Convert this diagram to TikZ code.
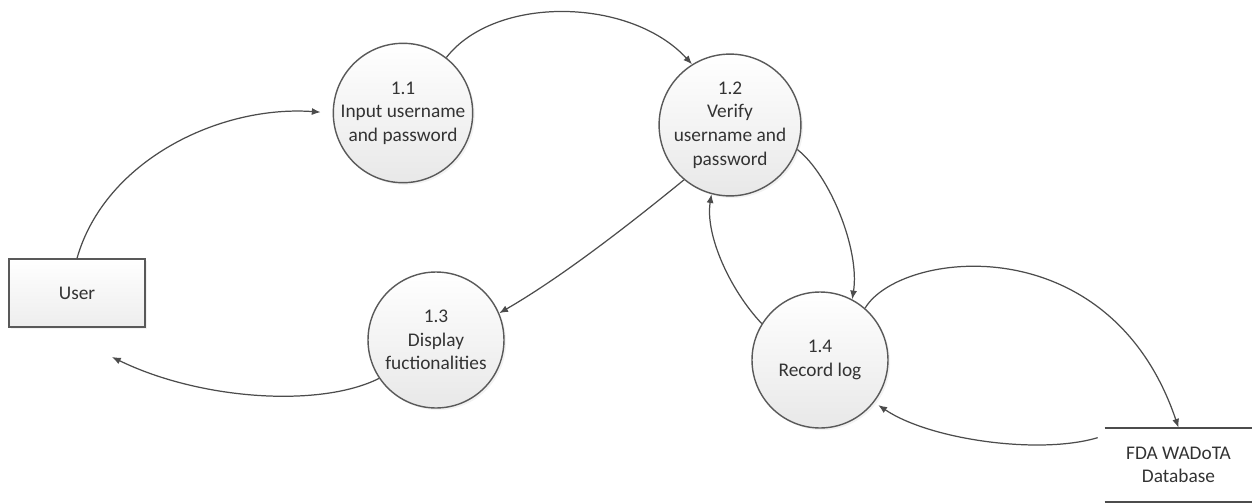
\documentclass[tikz,border=0pt]{standalone}
\usepackage{fontspec}
\setmainfont{Carlito}
\usetikzlibrary{arrows.meta,shadows,calc}
\begin{document}
\begin{tikzpicture}[x=0.02cm,y=-0.02cm,
  every node/.style={font=\fontsize{11}{13.4}\selectfont, text=black!80},
  proc/.style={circle, draw=black!65, line width=0.8pt, minimum size=2.72cm, inner sep=0pt, align=center,
    top color=white, bottom color=black!9, drop shadow={shadow xshift=1.2pt, shadow yshift=-1.2pt, opacity=0.1}},
  ent/.style={rectangle, draw=black!65, line width=0.8pt, minimum width=2.72cm, minimum height=1.36cm, align=center,
    top color=white, bottom color=black!7, drop shadow={shadow xshift=1.2pt, shadow yshift=-1.2pt, opacity=0.1}},
  store/.style={rectangle, minimum width=2.94cm, minimum height=1.48cm, align=center, inner sep=0pt},
  flow/.style={draw=black!70, line width=0.7pt, -{Latex[length=5pt,width=4pt]}}
]
\useasboundingbox (0,0) rectangle (1252,504);
\node[ent] (u) at (77,293) {User};
\node[proc] (c11) at (403,113) {1.1\\Input username\\and password};
\node[proc] (c12) at (730,125) {1.2\\Verify\\username and\\password};
\node[proc] (c13) at (436,340) {1.3\\Display\\fuctionalities};
\node[proc] (c14) at (820,360) {1.4\\Record log};
\node[store] (db) at (1178.5,465) {FDA WADoTA\\Database};
\draw[black!70, line width=1pt] (db.north west) -- (db.north east);
\draw[black!70, line width=1pt] (db.south west) -- (db.south east);
\coordinate (uin) at (112,357);

\draw[flow, shorten >=0.24cm] (u.north) .. controls (105,160) and (220,105) .. (c11.west);
\draw[flow] (c11.52) .. controls (495,-5) and (630,-3) .. (c12.122);
\draw[flow] (c12.-20) .. controls (830,175) and (860,250) .. (c14.62);
\draw[flow] (c14.148) .. controls (730,290) and (705,235) .. (c12.255);
\draw[flow] (c12.230) .. controls (625,228) and (560,278) .. (c13.23);
\draw[flow] (c13.214) .. controls (320,408) and (200,400) .. (uin);
\draw[flow] (c14.49) .. controls (900,250) and (1110,225) .. (db.north);
\draw[flow, shorten >=0.1cm] ($(db.north west)+(-7,10)$) .. controls (1040,455) and (930,440) .. (c14.-38);
\end{tikzpicture}
\end{document}
